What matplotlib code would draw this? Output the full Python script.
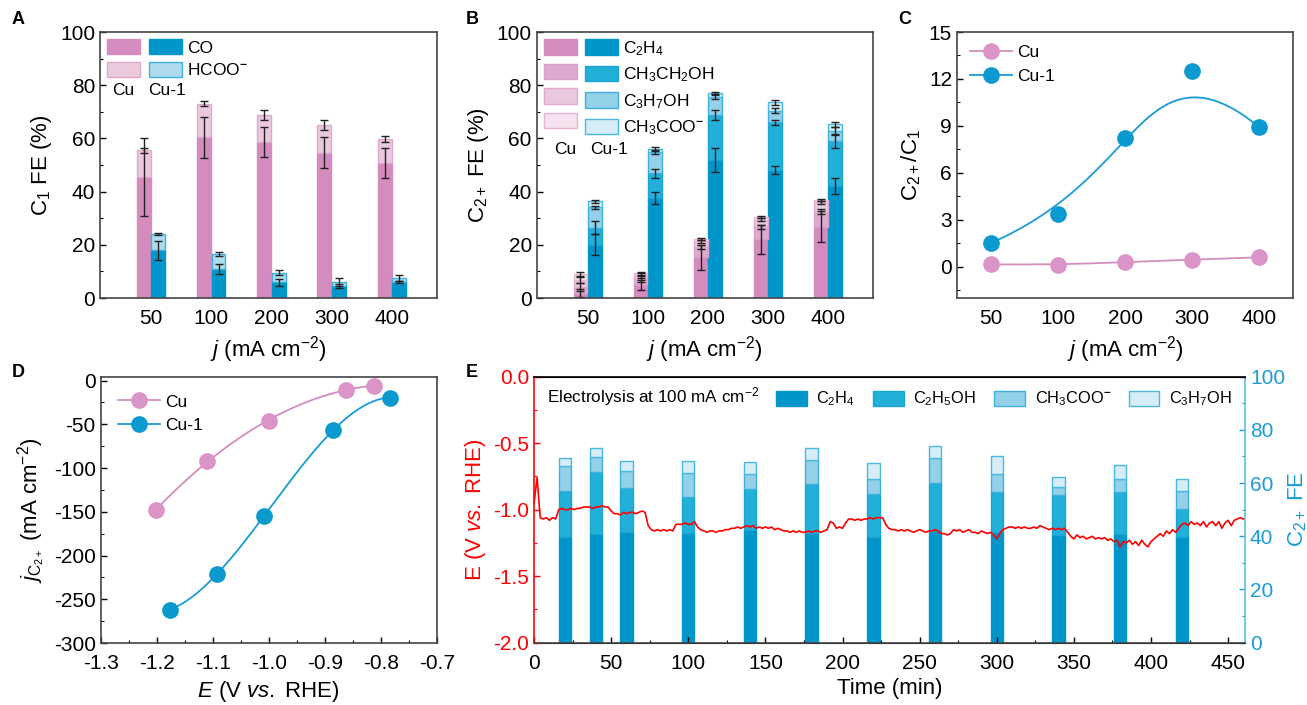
import numpy as np
import matplotlib
matplotlib.use('Agg')
import matplotlib.pyplot as plt
from matplotlib.patches import Patch
from matplotlib.lines import Line2D
from matplotlib.ticker import MultipleLocator, FuncFormatter

plt.rcParams['font.family'] = ['Liberation Sans', 'DejaVu Sans']
plt.rcParams['mathtext.fontset'] = 'custom'
plt.rcParams['mathtext.rm'] = 'Liberation Sans'
plt.rcParams['mathtext.it'] = 'Liberation Sans:italic'
plt.rcParams['mathtext.bf'] = 'Liberation Sans:bold'
plt.rcParams['xtick.direction'] = 'in'
plt.rcParams['ytick.direction'] = 'in'
plt.rcParams['axes.unicode_minus'] = False

# ---- data ----
j_labels = ['50', '100', '200', '300', '400']

# panel A : C1 FE (%)
cu_co = [45.5, 60.5, 58.7, 54.7, 50.8]
cu_co_err = [14.5, 7.7, 5.6, 5.8, 5.5]
cu_hcoo = [10.0, 12.5, 10.0, 10.5, 9.0]
cu_hcoo_err = [0.8, 1.0, 1.8, 1.9, 1.0]
cu1_co = [18.0, 11.0, 6.0, 4.5, 6.0]
cu1_co_err = [3.6, 1.8, 1.3, 0.6, 0.5]
cu1_hcoo = [6.0, 5.5, 3.5, 1.5, 1.5]
cu1_hcoo_err = [0.3, 0.8, 0.9, 1.5, 1.2]

# panel B : C2+ FE (%)  order: C2H4, CH3CH2OH, C3H7OH, CH3COO-
cu_c2 = [[1.8, 4.9, 15.3, 22.1, 26.8],
         [2.5, 2.2, 4.0, 4.5, 5.6],
         [2.5, 1.4, 2.0, 2.9, 3.6],
         [2.1, 0.8, 0.9, 1.1, 0.8]]
cu_c2_err = [[1.5, 2.0, 4.6, 5.4, 5.8],
             [1.5, 1.0, 0.8, 0.8, 1.0],
             [1.0, 0.8, 0.5, 0.5, 0.5],
             [0.8, 0.5, 0.3, 0.4, 0.3]]
cu1_c2 = [[20.0, 37.5, 51.9, 48.1, 42.1],
          [6.4, 9.4, 16.9, 17.9, 16.9],
          [7.7, 8.1, 6.9, 4.4, 3.7],
          [2.2, 1.0, 1.3, 3.2, 2.6]]
cu1_c2_err = [[4.0, 2.2, 4.5, 1.5, 3.1],
              [2.5, 1.6, 1.9, 1.0, 2.7],
              [0.6, 0.7, 1.0, 1.0, 1.5],
              [0.5, 0.6, 0.5, 1.0, 1.0]]
b_products = ['C$_2$H$_4$', 'CH$_3$CH$_2$OH', 'C$_3$H$_7$OH', 'CH$_3$COO$^{\\mathbf{-}}$']

# panel C : C2+/C1 ratio
ratio_cu = [0.15, 0.12, 0.30, 0.45, 0.60]
ratio_cu1 = [1.5, 3.4, 8.2, 12.5, 8.9]

# panel D : partial current density vs potential
e_cu = [-1.201, -1.111, -0.999, -0.863, -0.812]
jc2_cu = [-148, -92, -46, -10.6, -5.7]
e_cu1 = [-1.176, -1.093, -1.008, -0.886, -0.783]
jc2_cu1 = [-262, -221, -155, -57, -19.4]

# panel E : stability test
bar_times = [20, 40, 60, 100, 140, 180, 220, 260, 300, 340, 380, 420]
fe_c2h4 = [39.8, 40.9, 41.5, 41.1, 42.5, 41.4, 39.6, 41.9, 41.7, 40.4, 40.9, 39.8]
fe_etoh = [17.4, 23.1, 16.8, 13.6, 15.4, 18.4, 16.3, 18.3, 15.1, 15.3, 15.7, 10.4]
fe_acetate = [9.2, 5.7, 6.3, 9.2, 5.4, 8.9, 5.5, 9.4, 6.6, 2.8, 4.9, 6.7]
fe_proh = [3.1, 3.6, 3.7, 4.4, 4.7, 4.6, 6.0, 4.3, 6.7, 3.7, 5.2, 4.6]
e_names = ['C$_2$H$_4$', 'C$_2$H$_5$OH', 'CH$_3$COO$^{\\mathbf{-}}$', 'C$_3$H$_7$OH']

# potential trace, one reading every 2 min from 0 to 460 min
potential = [
    -0.95, -0.76, -1.06, -1.07, -1.06, -1.08, -1.06, -1.07, -1.00, -0.99,
    -1.00, -1.00, -0.99, -1.00, -0.99, -0.99, -0.98, -0.98, -0.98, -0.99,
    -0.98, -0.98, -0.97, -0.98, -0.98, -1.01, -1.03, -1.03, -1.04, -1.02,
    -1.03, -1.02, -1.02, -1.03, -1.02, -1.01, -1.02, -1.12, -1.15, -1.16,
    -1.15, -1.16, -1.15, -1.16, -1.15, -1.16, -1.11, -1.11, -1.11, -1.10,
    -1.11, -1.11, -1.09, -1.13, -1.15, -1.16, -1.17, -1.16, -1.16, -1.17,
    -1.16, -1.16, -1.15, -1.15, -1.14, -1.14, -1.13, -1.14, -1.13, -1.12,
    -1.13, -1.12, -1.14, -1.13, -1.14, -1.13, -1.14, -1.13, -1.15, -1.14,
    -1.15, -1.16, -1.16, -1.17, -1.16, -1.17, -1.16, -1.17, -1.17, -1.16,
    -1.17, -1.16, -1.16, -1.17, -1.16, -1.15, -1.09, -1.10, -1.14, -1.13,
    -1.14, -1.10, -1.07, -1.07, -1.08, -1.07, -1.08, -1.07, -1.07, -1.06,
    -1.07, -1.06, -1.06, -1.06, -1.11, -1.14, -1.15, -1.15, -1.16, -1.15,
    -1.16, -1.15, -1.16, -1.17, -1.16, -1.15, -1.16, -1.17, -1.16, -1.16,
    -1.15, -1.16, -1.18, -1.18, -1.19, -1.18, -1.15, -1.16, -1.15, -1.17,
    -1.16, -1.15, -1.17, -1.17, -1.18, -1.16, -1.17, -1.18, -1.17, -1.19,
    -1.22, -1.18, -1.15, -1.14, -1.13, -1.13, -1.14, -1.13, -1.14, -1.13,
    -1.14, -1.14, -1.13, -1.14, -1.12, -1.13, -1.14, -1.15, -1.14, -1.15,
    -1.14, -1.15, -1.14, -1.17, -1.20, -1.22, -1.19, -1.21, -1.20, -1.22,
    -1.21, -1.20, -1.22, -1.21, -1.22, -1.21, -1.23, -1.22, -1.24, -1.23,
    -1.28, -1.24, -1.25, -1.23, -1.26, -1.24, -1.27, -1.23, -1.26, -1.28,
    -1.24, -1.22, -1.20, -1.18, -1.20, -1.16, -1.18, -1.15, -1.17, -1.14,
    -1.11, -1.10, -1.12, -1.09, -1.11, -1.10, -1.12, -1.09, -1.13, -1.10,
    -1.09, -1.12, -1.09, -1.14, -1.10, -1.08, -1.12, -1.08, -1.07, -1.06,
    -1.07]
pot_time = np.arange(len(potential)) * 2

# ---- styles ----
pink_shades = ['#d48cbe', '#deaacf', '#eac8de', '#f5e2ee']
pink_edges = ['#d48cbe', '#d9a0c8', '#e0a8cc', '#e6b4d4']
blue_shades = ['#0096c9', '#22b0d9', '#93d1e8', '#d6edf5']
blue_edges = ['#0096c9', '#1aa4d6', '#3fb0de', '#4ab8e2']
pink_pt = '#da94c8'
blue_pt = '#0a9ad0'
spine_c = '#444444'
TICK = 15
LAB = 16
LEG = 12.5
err_kw = dict(ecolor='#222222', elinewidth=1.0, capsize=3, capthick=1.0)


def bspline(px, py, n=200, k=3):
    # clamped B-spline with the points as control points (smooth curve of the plotting software)
    px = np.asarray(px, float)
    py = np.asarray(py, float)
    m = len(px)
    knots = np.concatenate([np.zeros(k), np.linspace(0, 1, m - k + 1), np.ones(k)])
    u = np.linspace(0, 1, n)
    u[-1] -= 1e-9

    def basis(i, p):
        if p == 0:
            return ((knots[i] <= u) & (u < knots[i + 1])).astype(float)
        out = np.zeros_like(u)
        d1 = knots[i + p] - knots[i]
        d2 = knots[i + p + 1] - knots[i + 1]
        if d1 > 0:
            out += (u - knots[i]) / d1 * basis(i, p - 1)
        if d2 > 0:
            out += (knots[i + p + 1] - u) / d2 * basis(i + 1, p - 1)
        return out

    B = np.array([basis(i, k) for i in range(m)])
    return B.T @ px, B.T @ py


fig = plt.figure(figsize=(13.07, 7.05), dpi=100)


def style_box(ax):
    for s in ax.spines.values():
        s.set_color(spine_c)
        s.set_linewidth(1.2)
    ax.tick_params(labelsize=TICK, width=1.0, length=4)
    ax.tick_params(which='minor', width=0.8, length=2.5)


x = np.arange(1, 6)
w = 0.23
dx = 0.12

# ---- A ----
axA = fig.add_axes([0.0765, 0.5773, 0.2578, 0.3773])
axA.bar(x - dx, cu_co, w, color=pink_shades[0], edgecolor=pink_edges[0], yerr=cu_co_err, error_kw=err_kw)
axA.bar(x - dx, cu_hcoo, w, bottom=cu_co, color=pink_shades[2], edgecolor=pink_edges[2], yerr=cu_hcoo_err, error_kw=err_kw)
axA.bar(x + dx, cu1_co, w, color=blue_shades[0], edgecolor=blue_edges[0], yerr=cu1_co_err, error_kw=err_kw)
axA.bar(x + dx, cu1_hcoo, w, bottom=cu1_co, color='#aedcec', edgecolor=blue_edges[2], yerr=cu1_hcoo_err, error_kw=err_kw)
axA.set_xlim(0.15, 5.75)
axA.set_ylim(0, 100)
axA.set_xticks(x)
axA.set_xticklabels(j_labels)
axA.yaxis.set_minor_locator(MultipleLocator(10))
style_box(axA)
axA.tick_params(axis='x', length=0, pad=8)
axA.set_ylabel('C$_1$ FE (%)', fontsize=LAB)
axA.set_xlabel('$j$ (mA cm$^{-2}$)', fontsize=LAB)
hA = [Patch(facecolor=pink_shades[0], edgecolor=pink_edges[0]),
      Patch(facecolor=pink_shades[2], edgecolor=pink_edges[2]),
      Patch(facecolor=blue_shades[0], edgecolor=blue_edges[0]),
      Patch(facecolor='#aedcec', edgecolor=blue_edges[2])]
axA.legend(hA, ['', '', 'CO', 'HCOO$^{\\mathbf{-}}$'], ncol=2, loc='upper left', frameon=False,
           fontsize=LEG, handlelength=1.9, handleheight=1.0, handletextpad=0.3,
           columnspacing=0.2, labelspacing=0.35, borderaxespad=0.0)
axA.text(0.07, 0.78, 'Cu', transform=axA.transAxes, ha='center', va='center', fontsize=LEG)
axA.text(0.2, 0.78, 'Cu-1', transform=axA.transAxes, ha='center', va='center', fontsize=LEG)

# ---- B ----
axB = fig.add_axes([0.4106, 0.5773, 0.2573, 0.3773])
bot_cu = np.zeros(5)
bot_cu1 = np.zeros(5)
for i in range(4):
    axB.bar(x - dx, cu_c2[i], w, bottom=bot_cu, color=pink_shades[i], edgecolor=pink_edges[i],
            yerr=cu_c2_err[i], error_kw=err_kw)
    axB.bar(x + dx, cu1_c2[i], w, bottom=bot_cu1, color=blue_shades[i], edgecolor=blue_edges[i],
            yerr=cu1_c2_err[i], error_kw=err_kw)
    bot_cu = bot_cu + np.array(cu_c2[i])
    bot_cu1 = bot_cu1 + np.array(cu1_c2[i])
axB.set_xlim(0.15, 5.75)
axB.set_ylim(0, 100)
axB.set_xticks(x)
axB.set_xticklabels(j_labels)
axB.yaxis.set_minor_locator(MultipleLocator(10))
style_box(axB)
axB.tick_params(axis='x', length=0, pad=8)
axB.set_ylabel('C$_{2+}$ FE (%)', fontsize=LAB)
axB.set_xlabel('$j$ (mA cm$^{-2}$)', fontsize=LAB)
hB = [Patch(facecolor=pink_shades[i], edgecolor=pink_edges[i]) for i in range(4)] + \
     [Patch(facecolor=blue_shades[i], edgecolor=blue_edges[i]) for i in range(4)]
axB.legend(hB, ['', '', '', ''] + b_products, ncol=2, loc='upper left', frameon=False,
           fontsize=LEG, handlelength=1.9, handleheight=1.0, handletextpad=0.3,
           columnspacing=0.2, labelspacing=0.45, borderaxespad=0.0)
axB.text(0.084, 0.56, 'Cu', transform=axB.transAxes, ha='center', va='center', fontsize=LEG)
axB.text(0.215, 0.56, 'Cu-1', transform=axB.transAxes, ha='center', va='center', fontsize=LEG)

# ---- C ----
axC = fig.add_axes([0.7322, 0.5773, 0.2571, 0.3773])
sx, sy = bspline(x, ratio_cu)
axC.plot(sx, sy, color=pink_shades[0], lw=1.3)
sx, sy = bspline(x, ratio_cu1)
axC.plot(sx, sy, color='#1a9bd7', lw=1.3)
axC.plot(x, ratio_cu, 'o', ms=11, color=pink_pt)
axC.plot(x, ratio_cu1, 'o', ms=11, color=blue_pt)
axC.set_xlim(0.5, 5.5)
axC.set_ylim(-2, 15)
axC.set_xticks(x)
axC.set_xticklabels(j_labels)
axC.set_yticks([0, 3, 6, 9, 12, 15])
axC.yaxis.set_minor_locator(MultipleLocator(1.5))
style_box(axC)
axC.tick_params(axis='x', length=0, pad=8)
axC.set_ylabel('C$_{2+}$/C$_1$', fontsize=LAB)
axC.set_xlabel('$j$ (mA cm$^{-2}$)', fontsize=LAB)
hC = [Line2D([], [], color=pink_shades[0], marker='o', ms=11, mfc=pink_pt, mec=pink_pt, lw=1.3),
      Line2D([], [], color='#1a9bd7', marker='o', ms=11, mfc=blue_pt, mec=blue_pt, lw=1.3)]
axC.legend(hC, ['Cu', 'Cu-1'], loc='upper left', frameon=False, fontsize=LEG,
           handlelength=2.4, handletextpad=0.3, borderaxespad=0.35)

# ---- D ----
axD = fig.add_axes([0.0770, 0.0879, 0.2573, 0.3773])
xe = np.linspace(min(e_cu), max(e_cu), 200)
axD.plot(xe, np.polyval(np.polyfit(e_cu, jc2_cu, 2), xe), color=pink_shades[0], lw=1.3)
xe1 = np.linspace(min(e_cu1), max(e_cu1), 200)
axD.plot(xe1, np.polyval(np.polyfit(e_cu1, jc2_cu1, 3), xe1), color='#1a9bd7', lw=1.3)
axD.plot(e_cu, jc2_cu, 'o', ms=11, color=pink_pt)
axD.plot(e_cu1, jc2_cu1, 'o', ms=11, color=blue_pt)
axD.set_xlim(-1.3, -0.7)
axD.set_ylim(-300, 4)
axD.set_yticks([0, -50, -100, -150, -200, -250, -300])
axD.yaxis.set_minor_locator(MultipleLocator(25))
axD.xaxis.set_major_locator(MultipleLocator(0.1))
axD.xaxis.set_minor_locator(MultipleLocator(0.05))
axD.xaxis.set_major_formatter(FuncFormatter(lambda v, p: '%.1f' % v))
style_box(axD)
axD.tick_params(axis='x', pad=8)
axD.set_ylabel('$j_{\\mathrm{C}_{2+}}$ (mA cm$^{-2}$)', fontsize=LAB)
axD.set_xlabel('$E$ (V $vs.$ RHE)', fontsize=LAB)
axD.legend(hC, ['Cu', 'Cu-1'], loc='upper left', frameon=False, fontsize=LEG,
           handlelength=2.4, handletextpad=0.3, borderaxespad=0.6)

# ---- E ----
axE = fig.add_axes([0.4086, 0.0884, 0.544, 0.3773])
axE2 = axE.twinx()
axE.set_zorder(axE2.get_zorder() + 1)
axE.patch.set_visible(False)
e_stack = [fe_c2h4, fe_etoh, fe_acetate, fe_proh]
e_fc = ['#0096c9', '#22b0d9', '#93d1e8', '#d6edf5']
e_ec = ['#0096c9', '#1aa4d6', '#3fb0de', '#4ab8e2']
bot = np.zeros(len(bar_times))
for i in range(4):
    axE2.bar(bar_times, e_stack[i], 8, bottom=bot, color=e_fc[i], edgecolor=e_ec[i], lw=1.0)
    bot = bot + np.array(e_stack[i])
axE.plot(pot_time, potential, color='#ff0000', lw=1.2)
axE.set_xlim(0, 461)
axE.set_ylim(-2.0, 0.0)
axE2.set_ylim(0, 100)
axE.xaxis.set_major_locator(MultipleLocator(50))
axE.xaxis.set_minor_locator(MultipleLocator(25))
axE.yaxis.set_major_locator(MultipleLocator(0.5))
axE.yaxis.set_minor_locator(MultipleLocator(0.25))
axE.yaxis.set_major_formatter(FuncFormatter(lambda v, p: '%.1f' % v))
axE2.yaxis.set_major_locator(MultipleLocator(20))
axE2.yaxis.set_minor_locator(MultipleLocator(10))
axE.spines['right'].set_visible(False)
axE2.spines['left'].set_visible(False)
axE.spines['left'].set_color('#ff0000')
axE.spines['top'].set_color('black')
axE.spines['bottom'].set_color(spine_c)
axE2.spines['right'].set_color('#5bbfe6')
for s in ['left', 'top', 'bottom']:
    axE.spines[s].set_linewidth(1.2)
axE2.spines['right'].set_linewidth(1.2)
axE.tick_params(labelsize=TICK, width=1.0, length=4)
axE.tick_params(which='minor', width=0.8, length=2.5)
axE.tick_params(axis='x', pad=8)
axE.tick_params(axis='y', which='both', colors='#ff0000')
axE2.tick_params(labelsize=TICK, width=1.0, length=4, colors='#1a9bd7')
axE2.tick_params(which='minor', width=0.8, length=2.5, colors='#1a9bd7')
axE.set_ylabel('E (V $vs.$ RHE)', fontsize=LAB, color='#ff0000')
axE2.set_ylabel('C$_{2+}$ FE', fontsize=LAB, color='#1a9bd7', labelpad=1)
axE.set_xlabel('Time (min)', fontsize=LAB)
hE = [Patch(facecolor=e_fc[i], edgecolor=e_ec[i]) for i in range(4)]
axE.legend(hE, e_names, ncol=4, loc='upper right', frameon=False, fontsize=11.8,
           handlelength=1.85, handleheight=1.0, handletextpad=0.6, columnspacing=1.1,
           borderaxespad=0.4)
axE.text(0.018, 0.924, 'Electrolysis at 100 mA cm$^{-2}$', transform=axE.transAxes,
         ha='left', va='center', fontsize=12.3)

# panel letters
for lab, px, py in [('A', 0.009, 0.972), ('B', 0.356, 0.972), ('C', 0.687, 0.972),
                    ('D', 0.009, 0.472), ('E', 0.356, 0.472)]:
    fig.text(px, py, lab, fontsize=13, fontweight='bold', va='center')

fig.savefig('out.png', dpi=100)
